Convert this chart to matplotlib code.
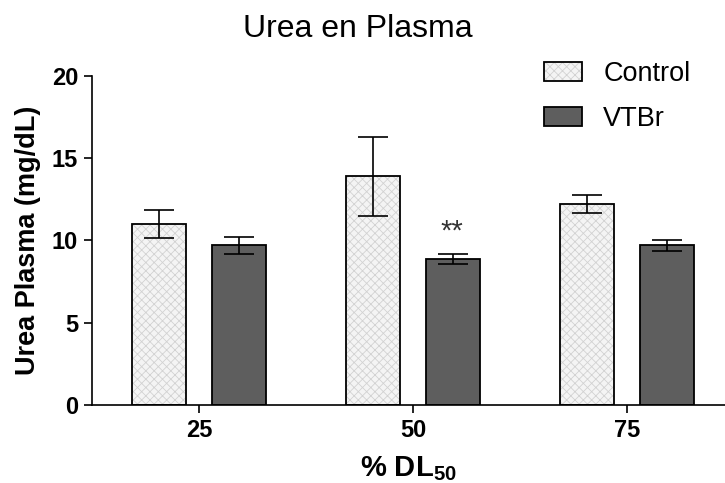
import numpy as np
import matplotlib
matplotlib.use("Agg")
import matplotlib.pyplot as plt
from matplotlib.patches import Patch

# --- Data ---
doses = ["25", "50", "75"]
control_mean = [11.0, 13.9, 12.2]
control_err = [0.85, 2.4, 0.55]
vtbr_mean = [9.7, 8.9, 9.7]
vtbr_err = [0.5, 0.3, 0.35]
vtbr_marks = ["", "**", ""]

# --- Style ---
plt.rcParams["font.family"] = ["Liberation Sans", "DejaVu Sans"]
plt.rcParams["hatch.linewidth"] = 0.6

DARK = "#5e5e5e"
LIGHT = "#f4f4f4"
HATCH = "#d2d2d2"
WIDTH = 0.253
OFFSET = 0.187

fig = plt.figure(figsize=(7.25, 4.83), dpi=100)
ax = fig.add_axes([0.127, 0.1615, 0.873, 0.6812])

x = np.arange(len(doses))
err_kw = dict(ecolor="black", elinewidth=1.2, capsize=11, capthick=1.2)

# control: light checkered fill + black outline
ax.bar(x - OFFSET, control_mean, WIDTH, color=LIGHT, edgecolor=HATCH,
       linewidth=0, hatch="xxxx", zorder=2)
ax.bar(x - OFFSET, control_mean, WIDTH, fill=False, edgecolor="black",
       linewidth=1.3, zorder=2)
ax.errorbar(x - OFFSET, control_mean, yerr=control_err, fmt="none", zorder=3, **err_kw)
ax.bar(x + OFFSET, vtbr_mean, WIDTH, color=DARK, edgecolor="black",
       linewidth=1.3, zorder=2)
ax.errorbar(x + OFFSET, vtbr_mean, yerr=vtbr_err, fmt="none", zorder=3, **err_kw)

for xi, m, e, s in zip(x, vtbr_mean, vtbr_err, vtbr_marks):
    if s:
        ax.annotate(s, (xi + OFFSET, m + e), xytext=(-1, 6), textcoords="offset points",
                    ha="center", va="bottom", fontsize=21, color="#333333")

ax.set_xlim(-0.502, 2.46)
ax.set_ylim(0, 20)
ax.set_yticks([0, 5, 10, 15, 20])
ax.set_xticks(x)
ax.set_xticklabels(doses)
ax.spines["top"].set_visible(False)
ax.spines["right"].set_visible(False)
for sp in ("left", "bottom"):
    ax.spines[sp].set_linewidth(1.2)
ax.tick_params(axis="both", direction="out", length=6, width=1.2,
               labelsize=17, pad=4)
for lab in ax.get_xticklabels() + ax.get_yticklabels():
    lab.set_fontweight("bold")

ax.set_ylabel("Urea Plasma (mg/dL)", fontsize=19.5, fontweight="bold", labelpad=8)
ax.set_xlabel(r"% DL$_{\mathregular{50}}$", fontsize=21, fontweight="bold", labelpad=9)
fig.text(0.493, 0.94, "Urea en Plasma", ha="center", va="center", fontsize=23)

handles = [
    (Patch(facecolor=LIGHT, edgecolor=HATCH, linewidth=0, hatch="xxxx"),
     Patch(fill=False, edgecolor="black", linewidth=1.3)),
    Patch(facecolor=DARK, edgecolor="black", linewidth=1.3),
]
ax.legend(handles, ["Control", "VTBr"], loc="upper left",
          bbox_to_anchor=(0.675, 1.12), frameon=False, fontsize=19.5,
          handlelength=1.4, handleheight=0.7, labelspacing=0.7, handletextpad=0.8)

fig.savefig("out.png", dpi=100)
